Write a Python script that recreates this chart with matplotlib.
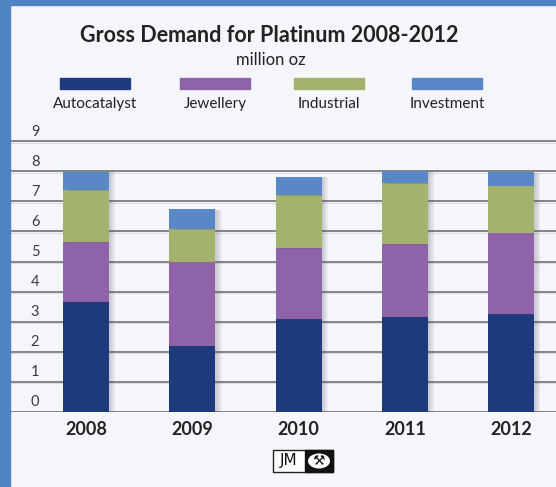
import matplotlib
matplotlib.use("Agg")
import matplotlib.pyplot as plt
import matplotlib.patches as mpatches
import matplotlib.patheffects as pe
import numpy as np

years = ["2008", "2009", "2010", "2011", "2012"]
series_names = ["Autocatalyst", "Jewellery", "Industrial", "Investment"]
autocatalyst = [3.66, 2.19, 3.07, 3.16, 3.24]
jewellery = [1.98, 2.80, 2.37, 2.42, 2.72]
industrial = [1.74, 1.09, 1.78, 2.03, 1.57]
investment = [0.61, 0.67, 0.61, 0.42, 0.44]
y_ticks = [0, 1, 2, 3, 4, 5, 6, 7, 8, 9]

colors = ["#1f3a7c", "#8f63a8", "#a3b36e", "#5a88c6"]
bg = "#f5f6fa"
border = "#4d84c1"
FONT = "Lato"

W, H = 556, 487
fig = plt.figure(figsize=(W / 100, H / 100), dpi=100, facecolor=bg)

def fx(px):
    return px / W

def fy(py):
    return 1 - py / H

# blue frame (left and top)
fig.patches.append(mpatches.Rectangle((0, 0), fx(10), 1, transform=fig.transFigure,
                                      color=border, zorder=0))
fig.patches.append(mpatches.Rectangle((0, fy(5)), 1, 5 / H, transform=fig.transFigure,
                                      color=border, zorder=0))

# axes geometry
y0_px, unit_px = 411.5, 30.0
ytop = 9.2
ax_left, ax_right = 10, 556
ax = fig.add_axes([fx(ax_left), fy(y0_px), fx(ax_right - ax_left), (ytop * unit_px) / H])
ax.set_facecolor("none")
for s in ax.spines.values():
    s.set_visible(False)

spacing = 106.3
x0_px = 86
x = np.arange(len(years))
ax.set_xlim(-(x0_px - ax_left) / spacing, (ax_right - x0_px) / spacing)
ax.set_ylim(0, ytop)

# gridlines
for t in y_ticks:
    ax.axhline(t, color="#7a7a7a", lw=1.3, zorder=1)
    ax.axhline(t - 0.04, color="#dcdde2", lw=0.8, zorder=1)
    ax.annotate(str(t), xy=(0, t), xycoords=("axes fraction", "data"),
                xytext=(18, 2), textcoords="offset points", ha="center", va="bottom",
                fontsize=10.5, color="#3a3a3a", family=FONT)

bar_w = 46 / spacing
shadow = [pe.SimplePatchShadow(offset=(o, -0.5), shadow_rgbFace="#555566", alpha=0.07)
          for o in (4.5, 3.5, 2.5, 1.5)]
bottom = np.zeros(len(years))
for vals, c in zip([autocatalyst, jewellery, industrial, investment], colors):
    bars = ax.bar(x, vals, bar_w, bottom=bottom, color=c, zorder=3, linewidth=0)
    for b in bars:
        b.set_path_effects(shadow + [pe.Normal()])
    bottom += np.array(vals)

ax.set_yticks([])
ax.set_xticks(x)
ax.set_xticklabels(years, fontsize=13, fontweight="bold", color="#222222", family=FONT)
ax.tick_params(axis="x", length=0, pad=7)

# title
fig.text(fx(269), fy(35), "Gross Demand for Platinum 2008-2012", ha="center", va="center",
         fontsize=15.5, fontweight="bold", color="#222222", family=FONT)
fig.text(fx(271), fy(60), "million oz", ha="center", va="center",
         fontsize=12, color="#222222", family=FONT)

# legend
leg_centers = [95, 215, 329, 447]
for name, c, cx in zip(series_names, colors, leg_centers):
    fig.patches.append(mpatches.Rectangle((fx(cx - 35), fy(89)), fx(70), 11 / H,
                                          transform=fig.transFigure, color=c, zorder=2))
    fig.text(fx(cx), fy(104), name, ha="center", va="center", fontsize=11,
             color="#222222", family=FONT)

# JM logo
fig.patches.append(mpatches.Rectangle((fx(273), fy(472)), fx(60), 22 / H, transform=fig.transFigure,
                                      facecolor="white", edgecolor="#222222", lw=1, zorder=2))
fig.patches.append(mpatches.Rectangle((fx(305), fy(472)), fx(28), 22 / H, transform=fig.transFigure,
                                      facecolor="#111111", edgecolor="#111111", lw=1, zorder=3))
fig.patches.append(mpatches.Ellipse((fx(319), fy(461)), fx(22), 15 / H, transform=fig.transFigure,
                                    facecolor="white", edgecolor="none", zorder=4))
fig.text(fx(289), fy(461), "JM", ha="center", va="center", fontsize=11, color="#111111",
         family="DejaVu Sans", zorder=5)
fig.text(fx(319), fy(461), "\u2692", ha="center", va="center", fontsize=10, color="#111111",
         family="DejaVu Sans", zorder=5)

fig.savefig("out.png", dpi=100, facecolor=bg)
